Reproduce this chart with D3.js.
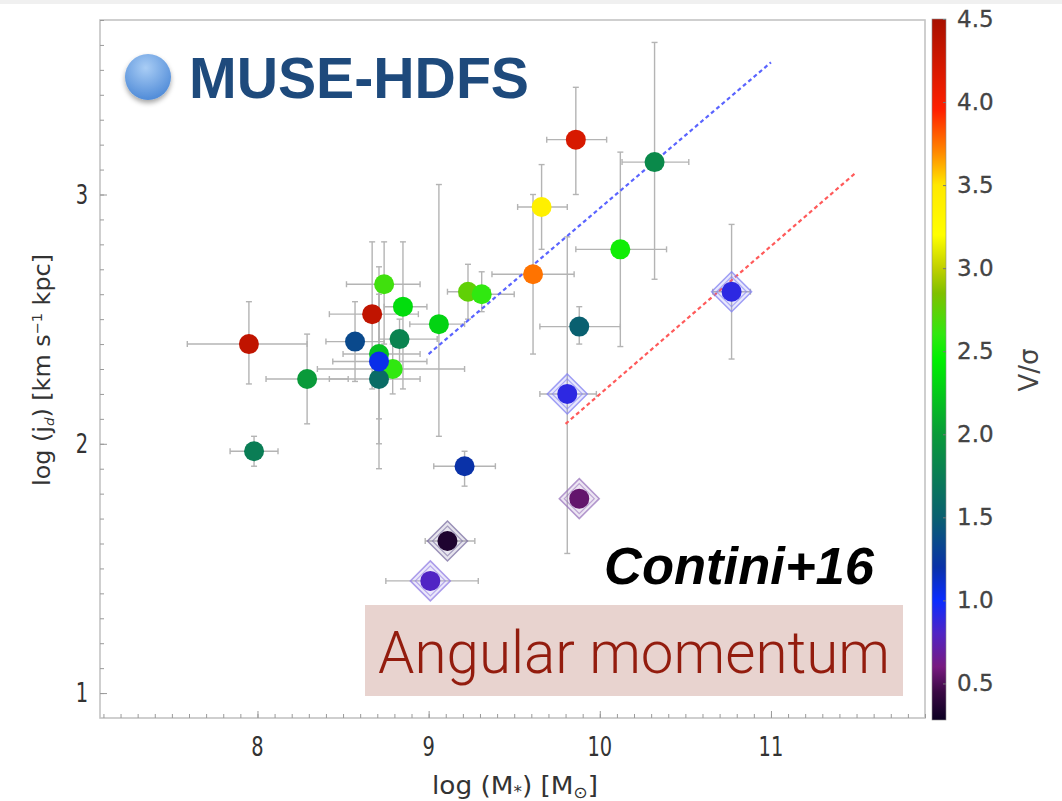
<!DOCTYPE html>
<html>
<head>
<meta charset="utf-8">
<script src="https://cdn.jsdelivr.net/npm/d3@7"></script>
<style>
  html, body { margin: 0; padding: 0; background: #ffffff; }
  svg { display: block; }
</style>
</head>
<body>
<svg id="chart" width="1062" height="801"></svg>
<script>
// Specific angular momentum vs stellar mass, coloured by V/sigma
const galaxyId   = [1,2,3,4,5,6,7,8,9,10,11,12,13,14,15,16,17,18,19,20,21,22,23,24,25,26,27];
const logMass    = [7.95,7.98,8.29,8.57,8.67,8.74,8.85,8.83,8.71,8.71,8.79,8.71,9.06,9.23,9.31,9.61,9.66,9.86,10.32,10.12,9.88,9.81,10.77,9.21,9.88,9.11,9.01];
const logMassLo  = [7.59,7.84,8.05,8.40,8.42,8.52,8.74,8.71,8.50,8.44,8.35,8.42,8.89,9.11,9.18,9.37,9.52,9.69,10.13,9.86,9.65,9.65,10.66,9.03,9.84,8.98,8.75];
const logMassHi  = [8.29,8.12,8.53,8.74,8.94,8.95,8.99,9.05,8.95,8.99,9.21,8.95,9.21,9.36,9.50,9.85,9.81,10.04,10.52,10.39,10.12,9.98,10.88,9.39,9.92,9.27,9.29];
const logJ       = [2.40,1.97,2.26,2.41,2.52,2.64,2.55,2.42,2.36,2.33,2.30,2.26,2.48,2.61,2.60,2.68,2.95,3.22,3.13,2.78,2.47,2.20,2.61,1.91,1.78,1.61,1.45];
const logJLo     = [2.24,1.91,2.08,2.25,2.22,2.40,2.22,2.33,2.10,2.00,2.20,1.90,2.03,2.50,2.53,2.36,2.78,3.00,2.66,2.39,2.40,1.56,2.34,1.83,1.75,1.58,1.42];
const logJHi     = [2.57,2.03,2.44,2.57,2.81,2.81,2.81,2.50,2.60,2.62,2.40,2.71,3.04,2.72,2.69,3.00,3.12,3.43,3.61,3.17,2.55,2.83,2.88,1.97,1.81,1.64,1.48];
const vOverSigma = [4.35,1.75,2.0,1.35,4.35,2.65,2.35,1.8,2.2,1.05,2.6,1.6,2.3,2.75,2.6,3.75,3.4,4.2,1.85,2.5,1.5,0.9,0.9,1.2,0.55,0.35,0.8];
const flagged    = [0,0,0,0,0,0,0,0,0,0,0,0,0,0,0,0,0,0,0,0,0,1,1,0,1,1,1];
// draw order so that overlapping markers stack as in the figure
const drawOrder  = [1,2,3,4,5,6,7,8,9,11,12,10,13,14,15,16,17,18,19,20,21,22,23,24,25,26,27];

// Reference relations (log M*, log j)
const relationBlueX = [9.0, 11.0];
const relationBlueY = [2.36, 3.53];
const relationRedX  = [9.8, 11.5];
const relationRedY  = [2.08, 3.09];

const xTicks  = [8, 9, 10, 11];
const yTicks  = [1, 2, 3];
const cbTicks = [0.5, 1.0, 1.5, 2.0, 2.5, 3.0, 3.5, 4.0, 4.5];

// Colour map stops: V/sigma value -> colour
const cmapValues = [0.28, 0.45, 0.6, 0.8, 1.0, 1.2, 1.5, 2.0, 2.45, 2.6, 2.85, 3.0, 3.2, 3.5, 3.7, 3.95, 4.5];
const cmapColors = ["#0c0022", "#3a0a44", "#781a80", "#5024c4", "#0a2cff", "#0a32a8", "#0a6070", "#0a9a3a",
                    "#00f000", "#30e810", "#80c000", "#c0d000", "#ffff00", "#ffe800", "#ff8800", "#ff2000", "#a81000"];

const svg = d3.select("#chart");

// faint strip at the top of the page
svg.append("rect").attr("x", 0).attr("y", 0).attr("width", 1062).attr("height", 4).attr("fill", "#f0f0f0");

const plot = { left: 100, right: 925, top: 20, bottom: 718 };
const x = d3.scaleLinear().domain([7.08, 11.9]).range([plot.left, plot.right]);
const y = d3.scaleLinear().domain([0.9, 3.7]).range([plot.bottom, plot.top]);
const color = d3.scaleLinear().domain(cmapValues).range(cmapColors).interpolate(d3.interpolateRgb).clamp(true);

// frame
svg.append("rect")
  .attr("x", plot.left).attr("y", plot.top)
  .attr("width", plot.right - plot.left).attr("height", plot.bottom - plot.top)
  .attr("fill", "#ffffff").attr("stroke", "#c4c4c4").attr("stroke-width", 1.6);

// minor / major ticks (inward) via d3 axes
const xMinor = d3.range(71, 120).map(v => v / 10);
const yMinor = d3.range(10, 38).map(v => v / 10);
const tickCol = "#9a9a9a";

const bottomAxis = svg.append("g").attr("transform", `translate(0,${plot.bottom})`)
  .call(d3.axisTop(x).tickValues(xMinor).tickSize(4).tickFormat(""));
const bottomMajor = svg.append("g").attr("transform", `translate(0,${plot.bottom})`)
  .call(d3.axisTop(x).tickValues(xTicks).tickSize(7).tickFormat(""));
const leftAxis = svg.append("g").attr("transform", `translate(${plot.left},0)`)
  .call(d3.axisRight(y).tickValues(yMinor).tickSize(4).tickFormat(""));
const leftMajor = svg.append("g").attr("transform", `translate(${plot.left},0)`)
  .call(d3.axisRight(y).tickValues(yTicks).tickSize(7).tickFormat(""));
[bottomAxis, bottomMajor, leftAxis, leftMajor].forEach(g => {
  g.select(".domain").remove();
  g.selectAll("line").attr("stroke", tickCol).attr("stroke-width", 1);
});

// tick labels (condensed, slightly tall glyphs)
const tickFont = "'DejaVu Sans Condensed', 'Liberation Sans Narrow', sans-serif";
svg.append("g").selectAll("text").data(xTicks).join("text")
  .attr("transform", d => `translate(${x(d)},756) scale(0.9,1.1)`)
  .attr("text-anchor", "middle")
  .attr("font-family", tickFont).attr("font-size", 24).attr("fill", "#333")
  .text(d => d);
svg.append("g").selectAll("text").data(yTicks).join("text")
  .attr("transform", d => `translate(88,${y(d) + 9}) scale(0.9,1.1)`)
  .attr("text-anchor", "end")
  .attr("font-family", tickFont).attr("font-size", 24).attr("fill", "#333")
  .text(d => d);

// axis titles
const xTitle = svg.append("text")
  .attr("x", 515).attr("y", 794).attr("text-anchor", "middle")
  .attr("font-family", tickFont).attr("font-size", 25).attr("fill", "#333")
  .attr("textLength", 166).attr("lengthAdjust", "spacingAndGlyphs");
xTitle.append("tspan").text("log (M");
xTitle.append("tspan").attr("font-size", 16).attr("dy", 3).text("*");
xTitle.append("tspan").attr("dy", -3).text(") [M");
xTitle.append("tspan").attr("font-size", 16).attr("dy", 4).text("⊙");
xTitle.append("tspan").attr("dy", -4).text("]");

const yTitle = svg.append("text")
  .attr("transform", "translate(50,370) rotate(-90)")
  .attr("text-anchor", "middle")
  .attr("font-family", tickFont).attr("font-size", 23).attr("fill", "#333")
  .attr("textLength", 232).attr("lengthAdjust", "spacingAndGlyphs");
yTitle.append("tspan").text("log (j");
yTitle.append("tspan").attr("font-size", 13).attr("dy", 4).attr("font-style", "italic").text("d");
yTitle.append("tspan").attr("dy", -4).text(") [km s");
yTitle.append("tspan").attr("font-size", 14).attr("dy", -8).text("−1");
yTitle.append("tspan").attr("dy", 8).text(" kpc]");

// error bars
const idx = d3.range(galaxyId.length);
const errCol = "#b4b4b4";
const cap = 3;
const eb = svg.append("g").attr("stroke", errCol).attr("stroke-width", 1.4).attr("fill", "none");
idx.forEach(i => {
  const cx = x(logMass[i]), cy = y(logJ[i]);
  const x0 = x(logMassLo[i]), x1 = x(logMassHi[i]);
  const y0 = y(logJLo[i]), y1 = y(logJHi[i]);
  eb.append("line").attr("x1", x0).attr("x2", x1).attr("y1", cy).attr("y2", cy);
  eb.append("line").attr("x1", cx).attr("x2", cx).attr("y1", y0).attr("y2", y1);
  eb.append("line").attr("x1", x0).attr("x2", x0).attr("y1", cy - cap).attr("y2", cy + cap);
  eb.append("line").attr("x1", x1).attr("x2", x1).attr("y1", cy - cap).attr("y2", cy + cap);
  eb.append("line").attr("x1", cx - cap).attr("x2", cx + cap).attr("y1", y0).attr("y2", y0);
  eb.append("line").attr("x1", cx - cap).attr("x2", cx + cap).attr("y1", y1).attr("y2", y1);
});

// dashed relations
const rel = d3.line().x(d => x(d[0])).y(d => y(d[1]));
svg.append("path")
  .attr("d", rel(d3.zip(relationBlueX, relationBlueY)))
  .attr("stroke", "#5a64ff").attr("stroke-width", 2.2).attr("stroke-dasharray", "4,3").attr("fill", "none");
svg.append("path")
  .attr("d", rel(d3.zip(relationRedX, relationRedY)))
  .attr("stroke", "#ff5a5a").attr("stroke-width", 2.2).attr("stroke-dasharray", "4,3").attr("fill", "none");

// diamond highlights around flagged galaxies
const diamond = (cx, cy, h) => `M${cx},${cy - h}L${cx + h},${cy}L${cx},${cy + h}L${cx - h},${cy}Z`;
const dg = svg.append("g");
idx.filter(i => flagged[i]).forEach(i => {
  const cx = x(logMass[i]), cy = y(logJ[i]);
  const c = d3.color(color(vOverSigma[i]));
  const light = d3.interpolateRgb(c, "#c8c8ff")(0.55);
  dg.append("path").attr("d", diamond(cx, cy, 20))
    .attr("fill", light).attr("fill-opacity", 0.18)
    .attr("stroke", light).attr("stroke-opacity", 0.75).attr("stroke-width", 1.5);
  dg.append("path").attr("d", diamond(cx, cy, 15))
    .attr("fill", "none")
    .attr("stroke", light).attr("stroke-opacity", 0.6).attr("stroke-width", 1.2);
});

// galaxies
svg.append("g").selectAll("circle")
  .data(drawOrder.map(n => n - 1))
  .join("circle")
  .attr("cx", i => x(logMass[i]))
  .attr("cy", i => y(logJ[i]))
  .attr("r", 10)
  .attr("fill", i => color(vOverSigma[i]));

// colour bar
const cb = { x: 932, w: 14, top: 19, bottom: 720 };
const cbScale = d3.scaleLinear().domain([0.28, 4.5]).range([cb.bottom, cb.top]);
const defs = svg.append("defs");
const grad = defs.append("linearGradient").attr("id", "cbGrad")
  .attr("x1", 0).attr("y1", 1).attr("x2", 0).attr("y2", 0);
grad.selectAll("stop").data(cmapValues).join("stop")
  .attr("offset", v => (v - 0.28) / (4.5 - 0.28))
  .attr("stop-color", (v, k) => cmapColors[k]);
svg.append("rect")
  .attr("x", cb.x).attr("y", cb.top).attr("width", cb.w).attr("height", cb.bottom - cb.top)
  .attr("fill", "url(#cbGrad)").attr("stroke", "#8a8a8a").attr("stroke-width", 0.6);
const cbAxis = svg.append("g").attr("transform", `translate(${cb.x + cb.w},0)`)
  .call(d3.axisLeft(cbScale).tickValues(cbTicks).tickSize(3).tickFormat(""));
cbAxis.select(".domain").remove();
cbAxis.selectAll("line").attr("stroke", "#777");
svg.append("g").selectAll("text").data(cbTicks).join("text")
  .attr("x", 957).attr("y", d => cbScale(d) + 8)
  .attr("font-family", "'DejaVu Sans', sans-serif").attr("font-size", 23).attr("fill", "#444")
  .attr("stroke", "#444").attr("stroke-width", 0.3)
  .text(d => d.toFixed(1));
svg.append("text")
  .attr("transform", "translate(1038,370) rotate(-90)")
  .attr("text-anchor", "middle")
  .attr("font-family", "'DejaVu Sans', sans-serif").attr("font-size", 26).attr("fill", "#444")
  .text("V/σ");

// survey label with sphere icon
const sph = defs.append("radialGradient").attr("id", "sphere")
  .attr("cx", "45%").attr("cy", "30%").attr("r", "75%");
sph.append("stop").attr("offset", 0).attr("stop-color", "#a9cdf5");
sph.append("stop").attr("offset", 1).attr("stop-color", "#4a87d6");
const shadow = defs.append("filter").attr("id", "shadow").attr("x", "-30%").attr("y", "-30%").attr("width", "160%").attr("height", "170%");
shadow.append("feDropShadow").attr("dx", 0).attr("dy", 3).attr("stdDeviation", 2.5).attr("flood-color", "#000").attr("flood-opacity", 0.35);
svg.append("circle").attr("cx", 148).attr("cy", 77).attr("r", 23)
  .attr("fill", "url(#sphere)").attr("filter", "url(#shadow)");
svg.append("text")
  .attr("x", 189).attr("y", 98)
  .attr("font-family", "'Liberation Sans', Arial, sans-serif").attr("font-weight", "bold")
  .attr("font-size", 57).attr("fill", "#1e4a7c")
  .attr("textLength", 340).attr("lengthAdjust", "spacingAndGlyphs")
  .text("MUSE-HDFS");

// reference tag
svg.append("text")
  .attr("x", 604).attr("y", 584)
  .attr("font-family", "'Liberation Sans', Arial, sans-serif").attr("font-weight", "bold").attr("font-style", "italic")
  .attr("font-size", 51).attr("fill", "#000")
  .attr("textLength", 270).attr("lengthAdjust", "spacingAndGlyphs")
  .text("Contini+16");

// topic banner
svg.append("rect").attr("x", 365).attr("y", 605).attr("width", 538).attr("height", 91).attr("fill", "#e8d3cf");
svg.append("text")
  .attr("x", 378).attr("y", 673)
  .attr("font-family", "Roboto, 'Open Sans', sans-serif").attr("font-weight", 300)
  .attr("font-size", 59).attr("fill", "#931c0e")
  .attr("textLength", 512).attr("lengthAdjust", "spacingAndGlyphs")
  .text("Angular momentum");
</script>
</body>
</html>
